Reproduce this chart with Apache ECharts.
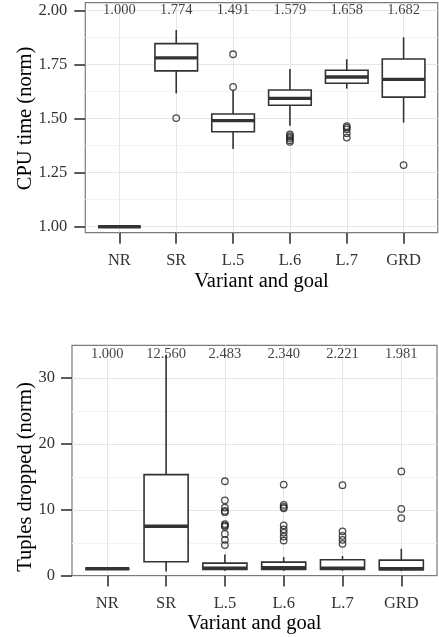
<!DOCTYPE html>
<html>
<head>
<meta charset="utf-8">
<script src="https://cdn.jsdelivr.net/npm/echarts@6/dist/echarts.min.js"></script>
<style>
  html, body { margin: 0; padding: 0; background: #fff; }
  #chart { width: 439px; height: 637px; }
</style>
</head>
<body>
<div id="chart"></div>
<script>
// Variants on the x axis
const categories = ['NR', 'SR', 'L.5', 'L.6', 'L.7', 'GRD'];

// CPU time (normalised): [lower whisker, Q1, median, Q3, upper whisker]
const cpuBoxes = [
  [1.000, 1.000, 1.000, 1.000, 1.000],
  [1.616, 1.720, 1.780, 1.846, 1.909],
  [1.359, 1.439, 1.490, 1.521, 1.630],
  [1.467, 1.561, 1.593, 1.632, 1.729],
  [1.638, 1.663, 1.692, 1.723, 1.774],
  [1.481, 1.599, 1.681, 1.775, 1.875]
];
const cpuOutliers = [
  [],
  [1.502],
  [1.797, 1.646],
  [1.427, 1.418, 1.410, 1.400, 1.392],
  [1.465, 1.458, 1.450, 1.432, 1.412],
  [1.285]
];
const cpuMeans = [1.000, 1.774, 1.491, 1.579, 1.658, 1.682];
const cpuMeanLabelY = 2.0;
const cpuTicks = [1.00, 1.25, 1.50, 1.75, 2.00];

// Tuples dropped (normalised)
const dropBoxes = [
  [1.00, 1.00, 1.00, 1.00, 1.00],
  [0.60, 2.07, 7.47, 15.30, 33.50],
  [0.70, 0.92, 1.08, 1.86, 3.18],
  [0.70, 0.92, 1.17, 2.02, 2.78],
  [0.70, 0.92, 1.10, 2.38, 2.93],
  [0.65, 0.85, 1.00, 2.32, 4.05]
];
const dropOutliers = [
  [],
  [],
  [14.3, 11.4, 10.3, 9.8, 9.6, 7.8, 7.6, 7.4, 6.3, 5.4, 4.6],
  [13.8, 10.7, 10.4, 10.2, 7.6, 7.0, 6.5, 5.9, 5.3],
  [13.7, 6.7, 6.0, 5.4, 4.8],
  [15.8, 10.1, 8.7]
];
const dropMeans = [1.000, 12.560, 2.483, 2.340, 2.221, 1.981];
const dropMeanLabelY = 33.6;
const dropTicks = [0, 10, 20, 30];

const SERIF = '"Liberation Serif", "DejaVu Serif", serif';
const INK = '#333333';

function boxRows(boxes) {
  return boxes.map((b, i) => [i].concat(b));
}
function outlierPoints(lists) {
  const pts = [];
  lists.forEach((vals, i) => vals.forEach(v => pts.push([i, v])));
  return pts;
}
function meanPoints(means, y) {
  return means.map((m, i) => ({ value: [i, y], mean: m }));
}

// Box with whiskers (no end caps) and a heavier median bar
function renderBox(params, api) {
  const i = api.value(0);
  const lo = api.coord([i, api.value(1)]);
  const q1 = api.coord([i, api.value(2)]);
  const md = api.coord([i, api.value(3)]);
  const q3 = api.coord([i, api.value(4)]);
  const hi = api.coord([i, api.value(5)]);
  const half = api.size([1, 0])[0] * 0.75 / 2;
  const cx = md[0];
  const thin = { stroke: INK, lineWidth: 1.6, fill: null };
  return {
    type: 'group',
    children: [
      { type: 'line', shape: { x1: cx, y1: hi[1], x2: cx, y2: q3[1] }, style: thin },
      { type: 'line', shape: { x1: cx, y1: q1[1], x2: cx, y2: lo[1] }, style: thin },
      { type: 'rect', shape: { x: cx - half, y: q3[1], width: 2 * half, height: q1[1] - q3[1] },
        style: { fill: '#ffffff', stroke: INK, lineWidth: 1.6 } },
      { type: 'line', shape: { x1: cx - half, y1: md[1], x2: cx + half, y2: md[1] },
        style: { stroke: INK, lineWidth: 3.4, fill: null } }
    ]
  };
}

const hiddenAxis = (grid) => ({ gridIndex: grid, type: 'value', show: false });

function categoryAxis(grid, labelMargin, nameGap) {
  return {
    gridIndex: grid,
    type: 'category',
    data: categories,
    boundaryGap: false,
    axisLine: { show: false },
    axisTick: { show: true, length: 11, interval: 0, lineStyle: { color: INK, width: 1.6 } },
    axisLabel: { interval: 0, margin: labelMargin, color: INK, fontFamily: SERIF, fontSize: 16.5 },
    splitLine: { show: true, interval: 0, lineStyle: { color: '#e6e6e6', width: 1 } },
    name: 'Variant and goal',
    nameLocation: 'middle',
    nameGap: nameGap,
    nameMoveOverlap: false,
    nameTextStyle: { color: '#000', fontFamily: SERIF, fontSize: 20.5 }
  };
}

function valueAxis(grid, ticks, digits, name, nameGap, labelMargin) {
  return {
    gridIndex: grid,
    type: 'value',
    min: ticks[0],
    max: ticks[ticks.length - 1],
    interval: ticks[1] - ticks[0],
    axisLine: { show: false },
    axisTick: { show: true, length: 11, lineStyle: { color: INK, width: 1.6 } },
    axisLabel: { margin: labelMargin, color: INK, fontFamily: SERIF, fontSize: 16.5,
                 formatter: v => v.toFixed(digits) },
    splitLine: { show: true, lineStyle: { color: '#e6e6e6', width: 1 } },
    minorTick: { show: false, splitNumber: 2 },
    minorSplitLine: { show: true, lineStyle: { color: '#f3f3f3', width: 1 } },
    name: name,
    nameLocation: 'middle',
    nameGap: nameGap,
    nameMoveOverlap: false,
    nameTextStyle: { color: '#000', fontFamily: SERIF, fontSize: 20.5 }
  };
}

function panelSeries(axisIdx, boxes, outliers, means, labelY) {
  return [
    { type: 'custom', xAxisIndex: axisIdx, yAxisIndex: axisIdx, renderItem: renderBox,
      encode: { x: 0, y: [1, 2, 3, 4, 5] }, data: boxRows(boxes), z: 3, silent: true },
    { type: 'scatter', xAxisIndex: axisIdx, yAxisIndex: axisIdx, data: outlierPoints(outliers),
      symbol: 'circle', symbolSize: 6.5, z: 4, silent: true,
      itemStyle: { color: 'rgba(0,0,0,0)', borderColor: '#222', borderWidth: 1.3 } },
    { type: 'scatter', xAxisIndex: axisIdx, yAxisIndex: axisIdx, data: meanPoints(means, labelY),
      symbolSize: 0, z: 5, silent: true,
      label: { show: true, position: 'inside', color: '#111', fontFamily: SERIF, fontSize: 14.5,
               formatter: p => p.data.mean.toFixed(3) } }
  ];
}

const chart = echarts.init(document.getElementById('chart'), null, { renderer: 'canvas' });

chart.setOption({
  animation: false,
  backgroundColor: '#ffffff',
  grid: [
    // top panel: frame, value scale, category band
    { left: 85.3, right: 1.3, top: 2.7, bottom: 404.3, show: true, borderColor: '#7a7a7a', borderWidth: 1.2, backgroundColor: 'transparent' },
    { left: 85.3, right: 1.3, top: 10.3, bottom: 410.3 },
    { left: 119.4, right: 35.4, top: 2.7, bottom: 404.3 },
    // bottom panel
    { left: 72, right: 2, top: 345.3, bottom: 61.3, show: true, borderColor: '#7a7a7a', borderWidth: 1.2, backgroundColor: 'transparent' },
    { left: 72, right: 2, top: 378, bottom: 61 },
    { left: 107.3, right: 37.7, top: 345.3, bottom: 61.3 }
  ],
  xAxis: [
    hiddenAxis(0),
    hiddenAxis(1),
    categoryAxis(2, 19, 38),
    hiddenAxis(3),
    hiddenAxis(4),
    categoryAxis(5, 19, 37)
  ],
  yAxis: [
    hiddenAxis(0),
    valueAxis(1, cpuTicks, 2, 'CPU time (norm)', 49, 18),
    { gridIndex: 2, type: 'value', show: false, min: 0.9723, max: 2.0351 },
    hiddenAxis(3),
    valueAxis(4, dropTicks, 0, 'Tuples dropped (norm)', 36, 17),
    { gridIndex: 5, type: 'value', show: false, min: -0.045, max: 34.95 }
  ],
  series: [
    ...panelSeries(2, cpuBoxes, cpuOutliers, cpuMeans, cpuMeanLabelY),
    ...panelSeries(5, dropBoxes, dropOutliers, dropMeans, dropMeanLabelY)
  ]
});
</script>
</body>
</html>
